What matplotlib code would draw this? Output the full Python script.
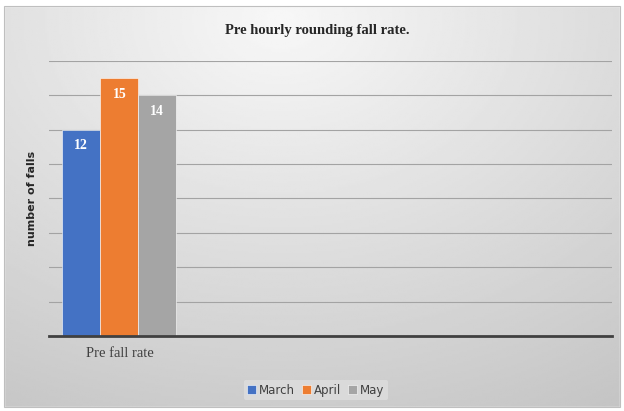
import numpy as np
import matplotlib.pyplot as plt
from matplotlib.patches import Rectangle

categories = ["Pre fall rate", "", "", ""]
months = ["March", "April", "May"]
falls = [12, 15, 14]
colors = ["#4472C4", "#ED7D31", "#A5A5A5"]

fig = plt.figure(figsize=(6.24, 4.11), dpi=100)

# gradient background for the chart area
bg = fig.add_axes([0, 0, 1, 1], zorder=-10)
yy, xx = np.mgrid[0:1:200j, 0:1:300j]
dist = np.sqrt(((xx - 0.45) * 1.0) ** 2 + ((yy - 0.05) * 0.9) ** 2)
bg.imshow(0.97 - 0.2 * dist, cmap="gray", vmin=0, vmax=1, aspect="auto",
          extent=[0, 1, 1, 0])
bg.set_xlim(0, 1)
bg.set_ylim(1, 0)
bg.axis("off")
bg.add_patch(Rectangle((0.0, 0.0), 0.006, 1, color="white", zorder=5))
bg.add_patch(Rectangle((0.0, 0.0), 1, 0.015, color="white", zorder=5))
bg.add_patch(Rectangle((0.994, 0.0), 0.006, 1, color="white", zorder=5))
bg.add_patch(Rectangle((0.0, 0.99), 1, 0.01, color="white", zorder=5))
bg.add_patch(Rectangle((0.006, 0.015), 0.988, 0.975, fill=False,
                       edgecolor="#bfbfbf", linewidth=0.8, zorder=6))

ax = fig.add_axes([49 / 624, 1 - 336 / 411, (612 - 49) / 624, (336 - 61) / 411])
ax.patch.set_alpha(0)

width = 0.27
x = np.arange(len(categories))
for i, (m, v, c) in enumerate(zip(months, falls, colors)):
    ax.bar(x[0] + (i - 1) * width, v, width, color=c, label=m,
           edgecolor="white", linewidth=0.4, zorder=3)
    ax.text(x[0] + (i - 1) * width, v - 0.55, str(v), ha="center", va="top",
            color="white", fontsize=10, fontweight="bold",
            family="Liberation Serif", zorder=4)

ax.set_xlim(-0.5, len(categories) - 0.5)
ax.set_ylim(0, 16)
ax.set_yticks(np.arange(0, 17, 2))
ax.yaxis.grid(True, color="#a3a3a3", linewidth=0.8, zorder=0)
ax.set_yticklabels([])
ax.tick_params(axis="y", length=0)
ax.set_xticks([0])
ax.set_xticklabels([categories[0]], family="Liberation Serif", fontsize=10.5,
                   color="#404040")
ax.tick_params(axis="x", length=0, pad=8)
for s in ["top", "right", "left"]:
    ax.spines[s].set_visible(False)
ax.spines["bottom"].set_color("#404040")
ax.spines["bottom"].set_linewidth(2)
ax.spines["bottom"].set_zorder(5)

ax.set_ylabel("number of falls", fontsize=8, fontweight="bold",
              color="#262626")
ax.yaxis.set_label_coords(-0.022, 0.5)

fig.text(0.508, 0.925, "Pre hourly rounding fall rate.", ha="center", va="center",
         fontsize=10.5, fontweight="bold", family="Liberation Serif", color="#262626")

leg = ax.legend(loc="center", bbox_to_anchor=(316 / 624, 1 - 390 / 411),
                bbox_transform=fig.transFigure, ncol=3, frameon=True,
                fontsize=8.5, handlelength=0.7, handleheight=0.7,
                handletextpad=0.3, columnspacing=0.6, borderpad=0.3)
leg.get_frame().set_facecolor("#dedede")
leg.get_frame().set_edgecolor("none")
for t in leg.get_texts():
    t.set_color("#404040")

fig.savefig("out.png", dpi=100)
